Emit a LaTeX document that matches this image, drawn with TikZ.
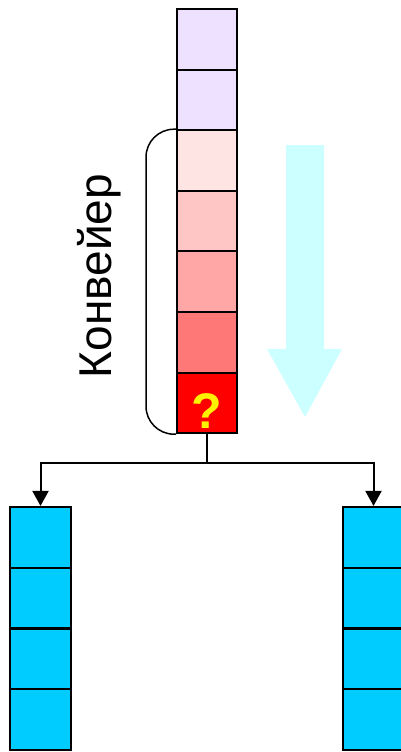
\documentclass[tikz,border=0pt]{standalone}
\usepackage{fontspec}
\setmainfont{Liberation Sans}
\usetikzlibrary{arrows.meta}
\definecolor{lav}{HTML}{EEE0FF}
\definecolor{pinkA}{HTML}{FFE4E4}
\definecolor{pinkB}{HTML}{FFC6C6}
\definecolor{pinkC}{HTML}{FFA6A6}
\definecolor{pinkD}{HTML}{FF7878}
\definecolor{stackred}{HTML}{FF0000}
\definecolor{bufblue}{HTML}{00CCFF}
\definecolor{flowcyan}{HTML}{CCFFFF}
\tikzset{
  cell/.style={draw=black, line width=2pt, minimum width=60pt, minimum height=60.6pt, inner sep=0pt},
  bufcell/.style={draw=black, line width=2.2pt, fill=bufblue, minimum width=61pt, minimum height=60.75pt, inner sep=0pt},
  link/.style={draw=black, line width=2pt},
  tip/.style={-{Triangle[width=16pt,length=15pt]}}
}
\begin{document}
\begin{tikzpicture}[x=1pt,y=-1pt]
\useasboundingbox (0,0) rectangle (401,752);
% instruction stream column
\node[cell, fill=lav]    (c1) at (207,39.3)  {};
\node[cell, fill=lav]    (c2) at (207,99.9)  {};
\node[cell, fill=pinkA]  (c3) at (207,160.5) {};
\node[cell, fill=pinkB]  (c4) at (207,221.1) {};
\node[cell, fill=pinkC]  (c5) at (207,281.7) {};
\node[cell, fill=pinkD]  (c6) at (207,342.3) {};
\node[cell, fill=stackred, text=yellow, text height=52pt, text depth=0pt, font=\bfseries\fontsize{50}{50}\selectfont] (c7) at (207,402.9) {?};
% pipeline bracket
\draw[line width=1.5pt, rounded corners=28pt] (c3.north west) -- ++(-30,0) -- ([xshift=-30pt]c7.south west) -- (c7.south west);
\node[rotate=90, font=\fontsize{46}{46}\selectfont] (lbl) at (99,276) {Конвейер};
% flow arrow
\fill[flowcyan] (286,145) -- (324,145) -- (324,349) -- (342,349) -- (305,417) -- (267,349) -- (286,349) -- cycle;
% left and right buffers
\node[bufcell] (l1) at (40.5,537.4) {};
\node[bufcell] (l2) at (40.5,598.1) {};
\node[bufcell] (l3) at (40.5,658.9) {};
\node[bufcell] (l4) at (40.5,719.6) {};
\node[bufcell] (r1) at (373.5,537.4) {};
\node[bufcell] (r2) at (373.5,598.1) {};
\node[bufcell] (r3) at (373.5,658.9) {};
\node[bufcell] (r4) at (373.5,719.6) {};
% branch connectors
\coordinate (split) at (207,463);
\draw[link] (c7.south) -- (split);
\draw[link, tip] (split) -| (l1.north);
\draw[link, tip] (split) -| (r1.north);
\end{tikzpicture}
\end{document}
